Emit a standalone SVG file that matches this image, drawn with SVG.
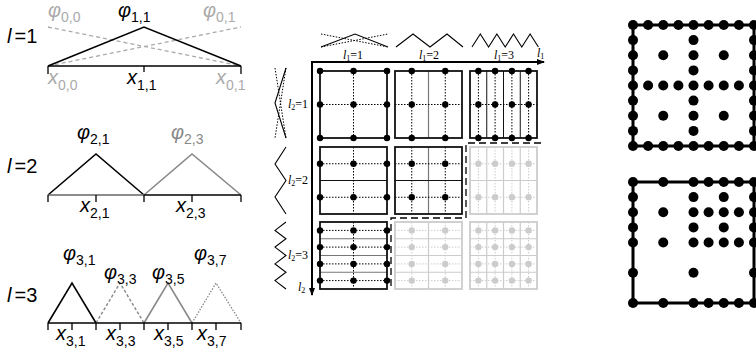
<svg xmlns="http://www.w3.org/2000/svg" width="756" height="354" viewBox="0 0 756 354">
<style>
.lab{font-family:"Liberation Sans",Arial,sans-serif;font-size:20px;fill:#000}
.xl{font-style:italic}
.sub{font-size:14px;font-style:normal}
.it{font-style:italic}
.gr{fill:#aaa}
.gr2{fill:#888}
.ln{stroke:#000;stroke-width:1.6;fill:none}
.tk{stroke:#000;stroke-width:1.3}
.ser{font-family:"Liberation Serif","Times New Roman",serif;font-size:12px;fill:#000}
.ss{font-size:8px}
.cell{fill:none;stroke:#111;stroke-width:1.8}
.cellg{fill:none;stroke:#ccc;stroke-width:1.8}
.dot{stroke:#000;stroke-width:1;stroke-dasharray:1.5,1.5;fill:none}
.dotg{stroke:#ccc;stroke-width:1;stroke-dasharray:1.5,1.5;fill:none}
.thin{stroke:#111;stroke-width:1;fill:none}
.thing{stroke:#777;stroke-width:1.2;fill:none}
.thinl{stroke:#ccc;stroke-width:1.2;fill:none}
.pt{fill:#000}
.ptg{fill:#ccc}
.bd{fill:#000}
.box{fill:none;stroke:#000;stroke-width:3}
.ax{stroke:#000;stroke-width:2;fill:none}
.icon{stroke:#000;stroke-width:1.1;fill:none}
.iconD{stroke:#000;stroke-width:1;stroke-dasharray:1.5,1.5;fill:none}
</style>
<defs>
<marker id="ah" markerWidth="8" markerHeight="8" refX="7" refY="4" orient="auto" markerUnits="userSpaceOnUse">
<path d="M0,1 L8,4 L0,7 Z" fill="#000"/>
</marker>
</defs>

<!-- LEFT: 1D hierarchical basis -->
<g id="level1">
<line x1="48" y1="27" x2="241" y2="66" stroke="#aaa" stroke-width="1.3" stroke-dasharray="4,3"/>
<line x1="48" y1="66" x2="241" y2="27" stroke="#aaa" stroke-width="1.3" stroke-dasharray="4,3"/>
<polyline class="ln" points="48,66 144,27 241,66"/>
<line class="ln" x1="48" y1="66" x2="241" y2="66"/>
<line class="tk" x1="48" y1="66" x2="48" y2="74"/>
<line class="tk" x1="241" y1="66" x2="241" y2="74"/>
<line class="tk" x1="144" y1="66" x2="144" y2="72"/>
<text class="lab" x="7" y="43"><tspan class="it">l</tspan><tspan dx="3">=1</tspan></text>
<text class="lab gr" x="48" y="17"><tspan class="it">φ</tspan><tspan class="sub" dy="5">0,0</tspan></text>
<text class="lab" x="118" y="17"><tspan class="it">φ</tspan><tspan class="sub" dy="5">1,1</tspan></text>
<text class="lab gr" x="203" y="17"><tspan class="it">φ</tspan><tspan class="sub" dy="5">0,1</tspan></text>
<text class="lab gr" x="48" y="84"><tspan class="xl">x</tspan><tspan class="sub" dy="6">0,0</tspan></text>
<text class="lab" x="127" y="84"><tspan class="xl">x</tspan><tspan class="sub" dy="6">1,1</tspan></text>
<text class="lab gr" x="216" y="84"><tspan class="xl">x</tspan><tspan class="sub" dy="6">0,1</tspan></text>
</g>

<g id="level2">
<polyline class="ln" points="48,195 96,154 144,195"/>
<polyline points="144,195 192,154 241,195" stroke="#888" stroke-width="1.6" fill="none"/>
<line x1="48" y1="195" x2="144" y2="195" stroke="#666" stroke-width="1.6"/>
<line class="ln" x1="144" y1="195" x2="241" y2="195"/>
<line class="tk" x1="48" y1="195" x2="48" y2="202"/>
<line class="tk" x1="96" y1="195" x2="96" y2="202"/>
<line class="tk" x1="144" y1="195" x2="144" y2="202"/>
<line class="tk" x1="192" y1="195" x2="192" y2="202"/>
<line class="tk" x1="241" y1="195" x2="241" y2="202"/>
<text class="lab" x="7" y="173"><tspan class="it">l</tspan><tspan dx="3">=2</tspan></text>
<text class="lab" x="77" y="139"><tspan class="it">φ</tspan><tspan class="sub" dy="5">2,1</tspan></text>
<text class="lab gr2" x="171" y="139"><tspan class="it">φ</tspan><tspan class="sub" dy="5">2,3</tspan></text>
<text class="lab" x="80" y="212"><tspan class="xl">x</tspan><tspan class="sub" dy="6">2,1</tspan></text>
<text class="lab" x="176" y="212"><tspan class="xl">x</tspan><tspan class="sub" dy="6">2,3</tspan></text>
</g>

<g id="level3">
<polyline class="ln" points="48,323 72,283 96,323"/>
<polyline points="96,323 120,283 144,323" stroke="#888" stroke-width="1.4" stroke-dasharray="3,2" fill="none"/>
<polyline points="144,323 168,283 192,323" stroke="#888" stroke-width="1.6" fill="none"/>
<polyline points="192,323 216,283 241,323" stroke="#888" stroke-width="1.3" stroke-dasharray="1.5,1.5" fill="none"/>
<line class="ln" x1="48" y1="323" x2="241" y2="323"/>
<path class="tk" d="M48,323V330M72,323V330M96,323V330M120,323V330M144,323V330M168,323V330M192,323V330M216,323V330M241,323V330"/>
<text class="lab" x="7" y="302"><tspan class="it">l</tspan><tspan dx="3">=3</tspan></text>
<text class="lab" x="63" y="260"><tspan class="it">φ</tspan><tspan class="sub" dy="5">3,1</tspan></text>
<text class="lab" x="104" y="279"><tspan class="it">φ</tspan><tspan class="sub" dy="5">3,3</tspan></text>
<text class="lab" x="152" y="279"><tspan class="it">φ</tspan><tspan class="sub" dy="5">3,5</tspan></text>
<text class="lab" x="194" y="260"><tspan class="it">φ</tspan><tspan class="sub" dy="5">3,7</tspan></text>
<text class="lab" x="56" y="340"><tspan class="xl">x</tspan><tspan class="sub" dy="6">3,1</tspan></text>
<text class="lab" x="106" y="340"><tspan class="xl">x</tspan><tspan class="sub" dy="6">3,3</tspan></text>
<text class="lab" x="154" y="340"><tspan class="xl">x</tspan><tspan class="sub" dy="6">3,5</tspan></text>
<text class="lab" x="197" y="340"><tspan class="xl">x</tspan><tspan class="sub" dy="6">3,7</tspan></text>
</g>

<!-- MIDDLE: 2D subspace table -->
<g id="axes">
<line class="ax" x1="311" y1="62" x2="544" y2="62" marker-end="url(#ah)"/>
<line class="ax" x1="312" y1="61" x2="312" y2="295" marker-end="url(#ah)"/>
<text class="ser" x="537" y="57"><tspan class="it">l</tspan><tspan class="ss" dy="2">1</tspan></text>
<text class="ser" x="298" y="291"><tspan class="it">l</tspan><tspan class="ss" dy="2">2</tspan></text>
</g>

<g id="icons-top">
<line class="iconD" x1="321" y1="34" x2="388" y2="47"/>
<line class="iconD" x1="321" y1="47" x2="388" y2="34"/>
<polyline class="icon" points="321,47 355,34 388,47"/>
<polyline class="icon" points="396,47 413,34 430,47 447,34 463,47"/>
<polyline class="icon" points="472,47 480.3,34 488.6,47 496.9,34 505.2,47 513.5,34 521.8,47 530.1,34 538.4,47"/>
<text class="ser" x="353" y="59" text-anchor="middle"><tspan class="it">l</tspan><tspan class="ss" dy="2">1</tspan><tspan dy="-2">=1</tspan></text>
<text class="ser" x="429" y="59" text-anchor="middle"><tspan class="it">l</tspan><tspan class="ss" dy="2">1</tspan><tspan dy="-2">=2</tspan></text>
<text class="ser" x="504" y="59" text-anchor="middle"><tspan class="it">l</tspan><tspan class="ss" dy="2">1</tspan><tspan dy="-2">=3</tspan></text>
</g>

<g id="icons-left">
<line class="iconD" x1="275" y1="68" x2="286" y2="138"/>
<line class="iconD" x1="286" y1="68" x2="275" y2="138"/>
<polyline class="icon" points="286,68 275,103 286,138"/>
<polyline class="icon" points="286,147 275,164 286,180.5 275,197 286,214"/>
<polyline class="icon" points="286,222 275,230.4 286,238.75 275,247.1 286,255.5 275,263.9 286,272.25 275,280.6 286,289"/>
<text class="ser" x="288" y="108"><tspan class="it">l</tspan><tspan class="ss" dy="2">2</tspan><tspan dy="-2">=1</tspan></text>
<text class="ser" x="288" y="184"><tspan class="it">l</tspan><tspan class="ss" dy="2">2</tspan><tspan dy="-2">=2</tspan></text>
<text class="ser" x="288" y="259"><tspan class="it">l</tspan><tspan class="ss" dy="2">2</tspan><tspan dy="-2">=3</tspan></text>
</g>

<g id="cell-1-1">
<path class="dot" d="M353.5,71V138M320,104.5H387"/>
<rect class="cell" x="320" y="71" width="67" height="67"/>
<g class="pt">
<circle cx="320" cy="71" r="3.2"/><circle cx="353.5" cy="71" r="3.2"/><circle cx="387" cy="71" r="3.2"/>
<circle cx="320" cy="104.5" r="3.2"/><circle cx="353.5" cy="104.5" r="3.2"/><circle cx="387" cy="104.5" r="3.2"/>
<circle cx="320" cy="138" r="3.2"/><circle cx="353.5" cy="138" r="3.2"/><circle cx="387" cy="138" r="3.2"/>
</g>
</g>

<g id="cell-2-1">
<path class="thing" d="M428.5,71V138"/>
<path class="dot" d="M411.75,71V138M445.25,71V138M395,104.5H462"/>
<rect class="cell" x="395" y="71" width="67" height="67"/>
<g class="pt">
<circle cx="411.75" cy="71" r="3.2"/><circle cx="445.25" cy="71" r="3.2"/>
<circle cx="411.75" cy="104.5" r="3.2"/><circle cx="445.25" cy="104.5" r="3.2"/>
<circle cx="411.75" cy="138" r="3.2"/><circle cx="445.25" cy="138" r="3.2"/>
</g>
</g>

<g id="cell-3-1">
<path class="thin" d="M486.75,71V138M503.5,71V138M520.25,71V138"/>
<path class="dot" d="M478.4,71V138M495.1,71V138M511.9,71V138M528.6,71V138M470,104.5H537"/>
<rect class="cell" x="470" y="71" width="67" height="67"/>
<g class="pt">
<circle cx="478.4" cy="71" r="3.2"/><circle cx="495.1" cy="71" r="3.2"/><circle cx="511.9" cy="71" r="3.2"/><circle cx="528.6" cy="71" r="3.2"/>
<circle cx="478.4" cy="104.5" r="3.2"/><circle cx="495.1" cy="104.5" r="3.2"/><circle cx="511.9" cy="104.5" r="3.2"/><circle cx="528.6" cy="104.5" r="3.2"/>
<circle cx="478.4" cy="138" r="3.2"/><circle cx="495.1" cy="138" r="3.2"/><circle cx="511.9" cy="138" r="3.2"/><circle cx="528.6" cy="138" r="3.2"/>
</g>
</g>

<g id="cell-1-2">
<path class="thin" d="M320,180.5H387"/>
<path class="dot" d="M353.5,147V214M320,163.75H387M320,197.25H387"/>
<rect class="cell" x="320" y="147" width="67" height="67"/>
<g class="pt">
<circle cx="320" cy="163.75" r="3.2"/><circle cx="353.5" cy="163.75" r="3.2"/><circle cx="387" cy="163.75" r="3.2"/>
<circle cx="320" cy="197.25" r="3.2"/><circle cx="353.5" cy="197.25" r="3.2"/><circle cx="387" cy="197.25" r="3.2"/>
</g>
</g>

<g id="cell-2-2">
<path class="thing" d="M428.5,147V214"/>
<path class="thin" d="M395,180.5H462"/>
<path class="dot" d="M411.75,147V214M445.25,147V214M395,163.75H462M395,197.25H462"/>
<rect class="cell" x="395" y="147" width="67" height="67"/>
<g class="pt">
<circle cx="411.75" cy="163.75" r="3.2"/><circle cx="445.25" cy="163.75" r="3.2"/>
<circle cx="411.75" cy="197.25" r="3.2"/><circle cx="445.25" cy="197.25" r="3.2"/>
</g>
</g>

<g id="cell-3-2">
<path class="thinl" d="M486.75,147V214M503.5,147V214M520.25,147V214M470,180.5H537"/>
<path class="dotg" d="M478.4,147V214M495.1,147V214M511.9,147V214M528.6,147V214M470,163.75H537M470,197.25H537"/>
<rect class="cellg" x="470" y="147" width="67" height="67"/>
<g class="ptg">
<circle cx="478.4" cy="163.75" r="3.2"/><circle cx="495.1" cy="163.75" r="3.2"/><circle cx="511.9" cy="163.75" r="3.2"/><circle cx="528.6" cy="163.75" r="3.2"/>
<circle cx="478.4" cy="197.25" r="3.2"/><circle cx="495.1" cy="197.25" r="3.2"/><circle cx="511.9" cy="197.25" r="3.2"/><circle cx="528.6" cy="197.25" r="3.2"/>
</g>
</g>

<g id="cell-1-3">
<path class="thing" d="M320,238.75H387M320,255.5H387M320,272.25H387"/>
<path class="dot" d="M353.5,222V289M320,230.4H387M320,247.1H387M320,263.9H387M320,280.6H387"/>
<rect class="cell" x="320" y="222" width="67" height="67"/>
<g class="pt">
<circle cx="320" cy="230.4" r="3.2"/><circle cx="353.5" cy="230.4" r="3.2"/><circle cx="387" cy="230.4" r="3.2"/>
<circle cx="320" cy="247.1" r="3.2"/><circle cx="353.5" cy="247.1" r="3.2"/><circle cx="387" cy="247.1" r="3.2"/>
<circle cx="320" cy="263.9" r="3.2"/><circle cx="353.5" cy="263.9" r="3.2"/><circle cx="387" cy="263.9" r="3.2"/>
<circle cx="320" cy="280.6" r="3.2"/><circle cx="353.5" cy="280.6" r="3.2"/><circle cx="387" cy="280.6" r="3.2"/>
</g>
</g>

<g id="cell-2-3">
<path class="thinl" d="M428.5,222V289M395,238.75H462M395,255.5H462M395,272.25H462"/>
<path class="dotg" d="M411.75,222V289M445.25,222V289M395,230.4H462M395,247.1H462M395,263.9H462M395,280.6H462"/>
<rect class="cellg" x="395" y="222" width="67" height="67"/>
<g class="ptg">
<circle cx="411.75" cy="230.4" r="3.2"/><circle cx="445.25" cy="230.4" r="3.2"/>
<circle cx="411.75" cy="247.1" r="3.2"/><circle cx="445.25" cy="247.1" r="3.2"/>
<circle cx="411.75" cy="263.9" r="3.2"/><circle cx="445.25" cy="263.9" r="3.2"/>
<circle cx="411.75" cy="280.6" r="3.2"/><circle cx="445.25" cy="280.6" r="3.2"/>
</g>
</g>

<g id="cell-3-3">
<path class="thinl" d="M486.75,222V289M503.5,222V289M520.25,222V289M470,238.75H537M470,255.5H537M470,272.25H537"/>
<path class="dotg" d="M478.4,222V289M495.1,222V289M511.9,222V289M528.6,222V289M470,230.4H537M470,247.1H537M470,263.9H537M470,280.6H537"/>
<rect class="cellg" x="470" y="222" width="67" height="67"/>
<g class="ptg">
<circle cx="478.4" cy="230.4" r="3.2"/><circle cx="495.1" cy="230.4" r="3.2"/><circle cx="511.9" cy="230.4" r="3.2"/><circle cx="528.6" cy="230.4" r="3.2"/>
<circle cx="478.4" cy="247.1" r="3.2"/><circle cx="495.1" cy="247.1" r="3.2"/><circle cx="511.9" cy="247.1" r="3.2"/><circle cx="528.6" cy="247.1" r="3.2"/>
<circle cx="478.4" cy="263.9" r="3.2"/><circle cx="495.1" cy="263.9" r="3.2"/><circle cx="511.9" cy="263.9" r="3.2"/><circle cx="528.6" cy="263.9" r="3.2"/>
<circle cx="478.4" cy="280.6" r="3.2"/><circle cx="495.1" cy="280.6" r="3.2"/><circle cx="511.9" cy="280.6" r="3.2"/><circle cx="528.6" cy="280.6" r="3.2"/>
</g>
</g>

<g id="boundary">
<polyline points="541,143 466,143 466,218 391,218 391,290" fill="none" stroke="#000" stroke-width="1.3" stroke-dasharray="7,4"/>
</g>

<!-- RIGHT: sparse grids -->
<g id="grid-full" transform="translate(633,25)">
<rect class="box" x="0" y="0" width="121" height="121"/>
<g class="bd">
<circle cx="0" cy="0" r="5"/><circle cx="15.1" cy="0" r="5"/><circle cx="30.25" cy="0" r="5"/><circle cx="45.4" cy="0" r="5"/><circle cx="60.5" cy="0" r="5"/><circle cx="75.6" cy="0" r="5"/><circle cx="90.75" cy="0" r="5"/><circle cx="105.9" cy="0" r="5"/><circle cx="121" cy="0" r="5"/>
<circle cx="0" cy="121" r="5"/><circle cx="15.1" cy="121" r="5"/><circle cx="30.25" cy="121" r="5"/><circle cx="45.4" cy="121" r="5"/><circle cx="60.5" cy="121" r="5"/><circle cx="75.6" cy="121" r="5"/><circle cx="90.75" cy="121" r="5"/><circle cx="105.9" cy="121" r="5"/><circle cx="121" cy="121" r="5"/>
<circle cx="0" cy="15.1" r="5"/><circle cx="0" cy="30.25" r="5"/><circle cx="0" cy="45.4" r="5"/><circle cx="0" cy="60.5" r="5"/><circle cx="0" cy="75.6" r="5"/><circle cx="0" cy="90.75" r="5"/><circle cx="0" cy="105.9" r="5"/>
<circle cx="121" cy="15.1" r="5"/><circle cx="121" cy="30.25" r="5"/><circle cx="121" cy="45.4" r="5"/><circle cx="121" cy="60.5" r="5"/><circle cx="121" cy="75.6" r="5"/><circle cx="121" cy="90.75" r="5"/><circle cx="121" cy="105.9" r="5"/>
<circle cx="60.5" cy="15.1" r="5"/><circle cx="60.5" cy="30.25" r="5"/><circle cx="60.5" cy="45.4" r="5"/><circle cx="60.5" cy="60.5" r="5"/><circle cx="60.5" cy="75.6" r="5"/><circle cx="60.5" cy="90.75" r="5"/><circle cx="60.5" cy="105.9" r="5"/>
<circle cx="15.1" cy="60.5" r="5"/><circle cx="30.25" cy="60.5" r="5"/><circle cx="45.4" cy="60.5" r="5"/><circle cx="75.6" cy="60.5" r="5"/><circle cx="90.75" cy="60.5" r="5"/><circle cx="105.9" cy="60.5" r="5"/>
<circle cx="30.25" cy="30.25" r="5"/><circle cx="90.75" cy="30.25" r="5"/><circle cx="30.25" cy="90.75" r="5"/><circle cx="90.75" cy="90.75" r="5"/>
</g>
</g>

<g id="grid-adaptive" transform="translate(633,182)">
<rect class="box" x="0" y="0" width="121" height="121"/>
<g class="bd">
<circle cx="0" cy="0" r="5"/><circle cx="30.25" cy="0" r="5"/><circle cx="60.5" cy="0" r="5"/><circle cx="75.6" cy="0" r="5"/><circle cx="90.75" cy="0" r="5"/><circle cx="105.9" cy="0" r="5"/><circle cx="121" cy="0" r="5"/>
<circle cx="0" cy="121" r="5"/><circle cx="30.25" cy="121" r="5"/><circle cx="60.5" cy="121" r="5"/><circle cx="75.6" cy="121" r="5"/><circle cx="90.75" cy="121" r="5"/><circle cx="105.9" cy="121" r="5"/><circle cx="121" cy="121" r="5"/>
<circle cx="0" cy="15.1" r="5"/><circle cx="0" cy="30.25" r="5"/><circle cx="0" cy="45.4" r="5"/><circle cx="0" cy="60.5" r="5"/><circle cx="0" cy="90.75" r="5"/>
<circle cx="121" cy="15.1" r="5"/><circle cx="121" cy="30.25" r="5"/><circle cx="121" cy="45.4" r="5"/><circle cx="121" cy="60.5" r="5"/><circle cx="121" cy="90.75" r="5"/>
<circle cx="60.5" cy="15.1" r="5"/><circle cx="90.75" cy="15.1" r="5"/>
<circle cx="30.25" cy="30.25" r="5"/><circle cx="60.5" cy="30.25" r="5"/><circle cx="75.6" cy="30.25" r="5"/><circle cx="90.75" cy="30.25" r="5"/><circle cx="105.9" cy="30.25" r="5"/>
<circle cx="60.5" cy="45.4" r="5"/><circle cx="90.75" cy="45.4" r="5"/>
<circle cx="30.25" cy="60.5" r="5"/><circle cx="60.5" cy="60.5" r="5"/><circle cx="75.6" cy="60.5" r="5"/><circle cx="90.75" cy="60.5" r="5"/><circle cx="105.9" cy="60.5" r="5"/>
<circle cx="60.5" cy="90.75" r="5"/>
</g>
</g>
</svg>
